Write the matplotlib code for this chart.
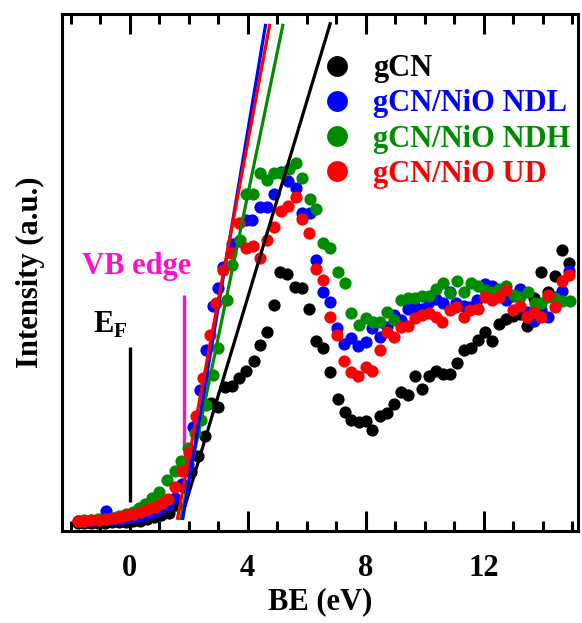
import numpy as np
import matplotlib
matplotlib.use('Agg')
import matplotlib.pyplot as plt
from matplotlib.lines import Line2D

plt.rcParams['font.family'] = ['Liberation Serif', 'DejaVu Serif']
plt.rcParams['font.weight'] = 'bold'
plt.rcParams['mathtext.fontset'] = 'custom'
plt.rcParams['mathtext.bf'] = 'Liberation Serif:bold'
plt.rcParams['mathtext.rm'] = 'Liberation Serif:bold'

# ---- data (BE in eV, intensity in arb. units) ----
be_gcn = [-1.77, -1.54, -1.30, -1.07, -0.83, -0.59, -0.35, -0.12, 0.11, 0.34,
          0.57, 0.83, 1.07, 1.33, 1.58, 1.85, 2.09, 2.32, 2.54, 2.77,
          2.99, 3.22, 3.48, 3.71, 3.95, 4.20, 4.41, 4.65, 4.89, 5.08,
          5.33, 5.59, 5.85, 6.08, 6.33, 6.55, 6.80, 7.06, 7.29, 7.51,
          7.77, 8.02, 8.23, 8.47, 8.72, 8.96, 9.19, 9.43, 9.66, 9.91,
          10.14, 10.37, 10.62, 10.85, 11.10, 11.32, 11.58, 11.81, 12.06, 12.28,
          12.52, 12.77, 12.99, 13.22, 13.47, 13.71, 13.93, 14.18, 14.43, 14.67,
          14.89]
i_gcn = [1.4, 1.4, 1.5, 1.5, 1.5, 1.6, 1.6, 1.7, 1.8, 1.9,
         2.2, 2.6, 3.0, 3.4, 5.0, 8.5, 11.4, 14.4, 18.3, 24.8,
         23.9, 27.9, 28.0, 29.5, 31.0, 32.9, 35.9, 38.5, 43.7, 50.1,
         49.7, 47.2, 47.0, 42.9, 36.8, 35.3, 30.8, 25.5, 22.9, 21.4,
         21.1, 21.3, 19.5, 22.2, 22.7, 24.5, 26.8, 26.3, 30.0, 27.5,
         30.0, 30.9, 30.3, 30.3, 32.4, 35.0, 35.3, 36.9, 38.4, 36.8,
         40.0, 41.0, 41.6, 42.0, 39.7, 45.0, 50.0, 46.1, 49.3, 54.3,
         51.9]

be_ndl = [-1.77, -1.55, -1.30, -1.05, -0.82, -0.57, -0.33, -0.10, 0.13, 0.36,
          0.60, 0.84, 1.07, 1.30, 1.54, 1.78, 1.98, 2.15, 2.37, 2.60,
          2.82, 3.00, 3.16, 3.48, 3.70, 3.93, 4.16, 4.41, 4.65, 4.88,
          5.12, 5.37, 5.62, 5.85, 6.10, 6.31, 6.55, 6.80, 7.03, 7.27,
          7.51, 7.74, 8.00, 8.23, 8.47, 8.72, 8.96, 9.19, 9.43, 9.66,
          9.91, 10.15, 10.37, 10.62, 10.85, 11.07, 11.32, 11.55, 11.78, 12.03,
          12.28, 12.52, 12.77, 13.00, 13.22, 13.47, 13.71, 13.93, 14.18, 14.41,
          14.66, 14.89]
i_ndl = [1.8, 1.8, 1.9, 2.0, 3.8, 2.1, 2.2, 2.4, 2.6, 2.9,
         3.3, 3.7, 4.3, 5.0, 6.3, 9.0, 13.0, 20.0, 27.2, 35.0,
         43.5, 47.0, 51.1, 55.5, 56.0, 60.1, 60.2, 62.7, 62.6, 65.2,
         69.5, 67.7, 66.3, 61.5, 61.5, 52.4, 46.2, 44.3, 39.2, 36.1,
         37.2, 35.7, 36.6, 39.2, 37.4, 39.4, 41.7, 40.8, 43.0, 43.2,
         43.0, 44.3, 44.8, 44.1, 46.2, 44.0, 43.4, 43.2, 44.7, 47.8,
         47.3, 46.6, 44.7, 45.5, 46.7, 42.4, 40.6, 42.7, 41.4, 45.2,
         46.4, 50.3]

be_ndh = [-1.77, -1.54, -1.30, -1.07, -0.84, -0.60, -0.37, -0.14, 0.10, 0.30,
          0.52, 0.75, 0.99, 1.27, 1.52, 1.75, 1.98, 2.20, 2.40, 2.60,
          2.82, 2.99, 3.28, 3.45, 3.73, 3.95, 4.18, 4.43, 4.65, 4.88,
          5.14, 5.39, 5.62, 5.85, 6.10, 6.33, 6.55, 6.80, 7.06, 7.29,
          7.51, 7.77, 8.00, 8.25, 8.47, 8.72, 8.96, 9.21, 9.43, 9.66,
          9.91, 10.15, 10.37, 10.62, 10.85, 11.10, 11.32, 11.58, 11.81, 12.03,
          12.28, 12.52, 12.77, 13.02, 13.24, 13.50, 13.73, 13.96, 14.18, 14.43,
          14.67, 14.94]
i_ndh = [1.9, 2.0, 2.1, 2.2, 2.3, 2.5, 2.8, 3.2, 3.7, 4.3,
         5.2, 6.4, 7.5, 9.8, 11.5, 13.5, 16.0, 19.0, 21.5, 24.3,
         30.1, 35.3, 44.6, 51.4, 56.2, 65.1, 65.1, 69.2, 67.8, 69.3,
         69.2, 70.0, 71.1, 68.2, 64.1, 62.2, 55.7, 54.7, 50.1, 48.0,
         42.1, 39.8, 41.1, 40.4, 40.4, 42.4, 40.8, 44.6, 45.0, 45.0,
         45.4, 45.4, 46.7, 47.9, 46.0, 48.4, 46.2, 47.9, 47.3, 46.5,
         46.2, 46.8, 47.3, 45.6, 45.2, 46.2, 44.0, 44.0, 45.3, 45.0,
         44.5, 44.5]

be_ud = [-1.77, -1.55, -1.30, -1.05, -0.80, -0.55, -0.31, -0.08, 0.15, 0.38,
         0.62, 0.85, 1.08, 1.31, 1.54, 1.78, 2.01, 2.24, 2.47, 2.71,
         2.94, 3.17, 3.43, 3.70, 3.93, 4.17, 4.41, 4.65, 4.88, 5.12,
         5.37, 5.62, 5.85, 6.08, 6.31, 6.55, 6.80, 7.03, 7.27, 7.51,
         7.74, 8.00, 8.23, 8.47, 8.72, 8.96, 9.19, 9.43, 9.66, 9.91,
         10.15, 10.37, 10.60, 10.85, 11.07, 11.32, 11.55, 11.81, 12.03, 12.28,
         12.52, 12.75, 12.99, 13.22, 13.47, 13.71, 13.93, 14.18, 14.41, 14.67,
         14.89]
i_ud = [1.8, 1.9, 2.1, 2.1, 2.3, 2.4, 2.7, 3.1, 3.3, 3.7,
        4.2, 4.6, 5.3, 6.2, 8.4, 11.5, 15.0, 22.2, 29.5, 37.9,
        44.0, 50.5, 53.7, 59.6, 54.8, 55.1, 52.7, 56.3, 58.7, 61.9,
        62.8, 64.5, 60.3, 57.7, 50.6, 48.5, 41.3, 37.9, 32.9, 30.8,
        29.9, 31.6, 31.0, 35.0, 38.5, 37.4, 39.4, 39.6, 41.1, 41.7,
        42.1, 41.3, 40.3, 42.7, 43.2, 41.3, 42.7, 43.0, 45.3, 44.7,
        45.2, 46.6, 42.7, 43.5, 41.4, 42.4, 41.4, 45.6, 43.2, 48.4,
        49.5]

# linear extrapolation of the leading edge: (BE start, I start, BE end, I end)
fit_gcn = [1.73, 2.1, 6.81, 98.4]
fit_ndl = [1.79, 2.1, 4.61, 98.1]
fit_ndh = [1.72, 2.1, 5.20, 98.1]
fit_ud = [1.61, 2.1, 4.75, 98.1]

labels = ['gCN', 'gCN/NiO NDL', 'gCN/NiO NDH', 'gCN/NiO UD']
colors = ['#000000', '#0000ff', '#008c00', '#ff0000']
vb_color = '#ff10c8'

ef_be, ef_lo, ef_hi = 0.0, 5.6, 35.5
vb_be, vb_lo, vb_hi = 1.83, 16.2, 45.6

fig = plt.figure(figsize=(5.82, 6.23), dpi=100)
ax = fig.add_axes([0.1065, 0.1482, 0.8866, 0.8293])

series = [(be_gcn, i_gcn, fit_gcn, 0), (be_ndh, i_ndh, fit_ndh, 2),
          (be_ndl, i_ndl, fit_ndl, 1), (be_ud, i_ud, fit_ud, 3)]
for be, inten, fit, k in series:
    ax.plot(be, inten, 'o', color=colors[k], ms=8.8, mew=0, zorder=2 + k * 0.1)
for be, inten, fit, k in series:
    ax.plot([fit[0], fit[2]], [fit[1], fit[3]], '-', color=colors[k], lw=2.3,
            zorder=4, solid_capstyle='butt')

ax.plot([ef_be, ef_be], [ef_lo, ef_hi], '-', color='black', lw=2.4,
        solid_capstyle='butt')
ax.plot([vb_be, vb_be], [vb_lo, vb_hi], '-', color=vb_color, lw=2.4,
        solid_capstyle='butt')
ax.text(-1.25, 38.3, r'$\mathbf{E}_\mathbf{F}$', fontsize=22, color='black',
        ha='left', va='baseline')
ax.text(-1.63, 49.6, 'VB edge', fontsize=22, color=vb_color, fontweight='bold',
        ha='left', va='baseline')

ax.set_xlim(-2.3, 15.2)
ax.set_ylim(0, 100)
ax.set_xticks([0, 4, 8, 12])
ax.set_xticks(np.arange(-2, 16, 1), minor=True)
ax.set_yticks([])
ax.tick_params(axis='x', which='both', direction='in', top=True, width=2.2,
               labelsize=22, pad=17)
ax.tick_params(axis='x', which='major', length=14.5)
ax.tick_params(axis='x', which='minor', length=7.2)
for sp in ax.spines.values():
    sp.set_linewidth(2.2)

ax.set_xlabel('BE (eV)', fontsize=22, fontweight='bold', labelpad=3)
ax.set_ylabel('Intensity (a.u.)', fontsize=22, fontweight='bold', labelpad=12)

handles = [Line2D([], [], marker='o', ls='none', color=c, ms=15, mew=0)
           for c in colors]
leg = ax.legend(handles, labels, loc='upper left', bbox_to_anchor=(0.503, 0.922),
                frameon=False, borderpad=0, borderaxespad=0, handlelength=1.0,
                handletextpad=0.7, labelspacing=0.2,
                prop={'family': 'Liberation Serif', 'weight': 'bold', 'size': 22})
for t, c in zip(leg.get_texts(), colors):
    t.set_color(c)

fig.savefig('out.png', dpi=100)
